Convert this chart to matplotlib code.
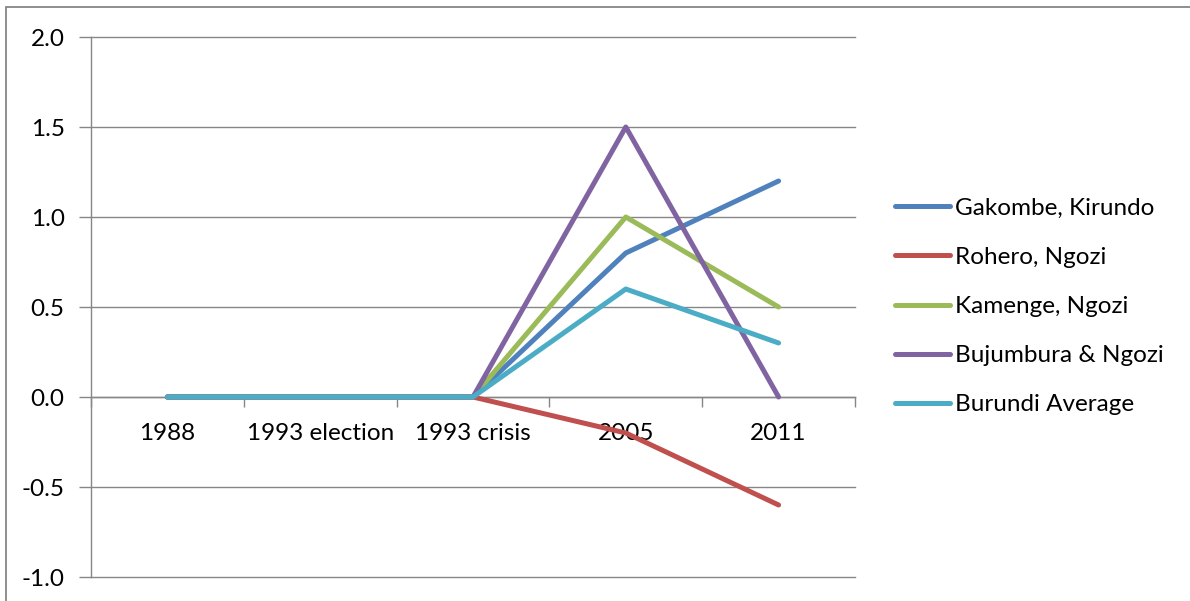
import matplotlib
matplotlib.use("Agg")
import matplotlib.pyplot as plt
from matplotlib.patches import Rectangle

categories = ["1988", "1993 election", "1993 crisis", "2005", "2011"]
series_names = ["Gakombe, Kirundo", "Rohero, Ngozi", "Kamenge, Ngozi",
                "Bujumbura & Ngozi", "Burundi Average"]
gakombe = [0, 0, 0, 0.8, 1.2]
rohero = [0, 0, 0, -0.2, -0.6]
kamenge = [0, 0, 0, 1.0, 0.5]
bujumbura = [0, 0, 0, 1.5, 0.0]
average = [0, 0, 0, 0.6, 0.3]
yticks = [-1.0, -0.5, 0.0, 0.5, 1.0, 1.5, 2.0]
colors = ["#4F81BD", "#C0504D", "#9BBB59", "#8064A2", "#4BACC6"]

plt.rcParams['font.family'] = ['Lato', 'DejaVu Sans']
FS = 17.5
W, H = 1190, 601
fig = plt.figure(figsize=(W / 100, H / 100), dpi=100)

# outer chart border (only left/top visible)
fig.patches.append(Rectangle((6 / W, -0.1), 1.2, (H - 7) / H + 0.1,
                             transform=fig.transFigure, fill=False,
                             edgecolor="#868686", linewidth=1.3))

ax = fig.add_axes([91 / W, 24 / H, (855 - 91) / W, (577 - 37) / H])
grid_c = "#868686"
x = list(range(len(categories)))

for v in yticks:
    ax.axhline(v, color=grid_c, lw=1.0, clip_on=False, zorder=1)

for vals, name, c in zip([gakombe, rohero, kamenge, bujumbura, average],
                         series_names, colors):
    ax.plot(x, vals, color=c, lw=3.6, solid_capstyle='round',
            solid_joinstyle='round', label=name, zorder=3)

ax.set_xlim(-0.5, len(categories) - 0.5)
ax.set_ylim(-1, 2)
ax.set_yticks(yticks)
ax.set_yticklabels([f"{v:.1f}" for v in yticks])
for s in ["top", "right"]:
    ax.spines[s].set_visible(False)
ax.spines["left"].set_color(grid_c)
ax.spines["left"].set_linewidth(1.0)
ax.spines["bottom"].set_position(("data", 0))
ax.spines["bottom"].set_color(grid_c)
ax.spines["bottom"].set_linewidth(1.0)

ax.tick_params(axis="y", direction="out", length=9, width=1.0, color=grid_c,
               pad=10, labelsize=FS, labelcolor="black")
ax.set_xticks(x)
ax.set_xticklabels(categories)
ax.tick_params(axis="x", which="major", length=0, pad=19, labelsize=FS)
ax.set_xticks([i - 0.5 for i in range(len(categories) + 1)], minor=True)
ax.tick_params(axis="x", which="minor", direction="out", length=7,
               width=1.0, color=grid_c)

leg = fig.legend(loc="center left", bbox_to_anchor=(895 / W, 1 - 306.5 / H),
                 frameon=False, fontsize=FS, handlelength=2.26,
                 handletextpad=0.2, labelspacing=1.16, borderpad=0,
                 borderaxespad=0)

fig.savefig("out.png", dpi=100)
